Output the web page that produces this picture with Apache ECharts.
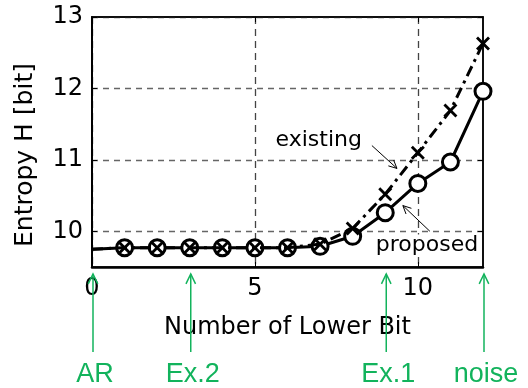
<!DOCTYPE html>
<html>
<head>
<meta charset="utf-8">
<script src="https://cdn.jsdelivr.net/npm/echarts@6/dist/echarts.min.js"></script>
<style>html,body{margin:0;padding:0;background:#fff}#c{width:528px;height:388px}</style>
</head>
<body>
<div id="c"></div>
<script>
const xValues = [0, 1, 2, 3, 4, 5, 6, 7, 8, 9, 10, 11, 12];
const proposed = [9.75, 9.77, 9.77, 9.77, 9.77, 9.77, 9.77, 9.79, 9.93, 10.26, 10.67, 10.97, 11.96];
const existing = [9.75, 9.77, 9.77, 9.77, 9.77, 9.77, 9.77, 9.82, 10.04, 10.52, 11.10, 11.69, 12.63];
const xTicks = [0, 5, 10];
const yTicks = [10, 11, 12, 13];
const markerNotes = [
  {x: 0, text: 'AR'},
  {x: 3, text: 'Ex.2'},
  {x: 9, text: 'Ex.1'},
  {x: 12, text: 'noise'}
];

const FONT = 'DejaVu Sans';
const GREEN = '#12b35c';
const chart = echarts.init(document.getElementById('c'));

const crossPath = 'path://M0,2 L2,0 L7,5 L12,0 L14,2 L9,7 L14,12 L12,14 L7,9 L2,14 L0,12 L5,7 Z';

const propData = xValues.map((x, i) => i === 0 ? {value: [x, proposed[i]], symbol: 'none'} : [x, proposed[i]]);
const existData = xValues.map((x, i) => i === 0 ? {value: [x, existing[i]], symbol: 'none'} : [x, existing[i]]);

chart.setOption({
  animation: false,
  grid: {left: 92, right: 45, top: 17, bottom: 121, show: true, borderColor: '#000', borderWidth: 1.5, backgroundColor: '#fff'},
  xAxis: [{
    type: 'value', min: 0, max: 12,
    axisLine: {show: true, onZero: false, lineStyle: {color: '#000', width: 2.5}},
    axisTick: {show: true, inside: true, length: 5, customValues: xTicks, lineStyle: {color: '#000'}},
    axisLabel: {customValues: xTicks, color: '#000', fontSize: 24, fontFamily: FONT, margin: 10},
    splitLine: {show: true, lineStyle: {color: '#444', type: [7, 5], width: 1.3}},
    name: 'Number of Lower Bit', nameLocation: 'middle', nameGap: 49,
    nameTextStyle: {color: '#000', fontSize: 24, fontFamily: FONT}
  }, {
    type: 'value', min: 0, max: 12, position: 'top',
    axisLine: {show: true, onZero: false, lineStyle: {color: '#000', width: 1.5}},
    axisTick: {show: true, inside: true, length: 5, customValues: xTicks, lineStyle: {color: '#000'}},
    axisLabel: {show: false, customValues: xTicks},
    splitLine: {show: false}
  }],
  yAxis: [{
    type: 'value', min: 9.5, max: 13,
    axisLine: {show: true, onZero: false, lineStyle: {color: '#000', width: 2}},
    axisTick: {show: true, inside: true, length: 5, customValues: yTicks, lineStyle: {color: '#000'}},
    axisLabel: {customValues: yTicks, color: '#000', fontSize: 24, fontFamily: FONT, margin: 9},
    splitLine: {show: true, lineStyle: {color: '#666', type: [6, 5], width: 1.3}}
  }, {
    type: 'value', min: 9.5, max: 13, position: 'right',
    axisLine: {show: true, onZero: false, lineStyle: {color: '#000', width: 1.5}},
    axisTick: {show: true, inside: true, length: 5, customValues: yTicks, lineStyle: {color: '#000'}},
    axisLabel: {show: false, customValues: yTicks},
    splitLine: {show: false}
  }],
  series: [{
    name: 'proposed', type: 'line', data: propData, z: 3,
    symbol: 'circle', symbolSize: 16,
    itemStyle: {color: '#fff', borderColor: '#000', borderWidth: 3},
    lineStyle: {color: '#000', width: 3}
  }, {
    name: 'existing', type: 'line', data: existData, z: 4,
    symbol: crossPath, symbolSize: 14,
    itemStyle: {color: '#000'},
    lineStyle: {color: '#000', width: 3, type: [11, 5, 3, 5]}
  }]
});

function px(x, y) { return chart.convertToPixel({xAxisIndex: 0, yAxisIndex: 0}, [x, y]); }

function arrow(p0, p1, color, w, head) {
  const ang = Math.atan2(p1[1] - p0[1], p1[0] - p0[0]);
  const a1 = ang + Math.PI - 0.45, a2 = ang + Math.PI + 0.45;
  return [
    {type: 'line', shape: {x1: p0[0], y1: p0[1], x2: p1[0], y2: p1[1]}, style: {stroke: color, lineWidth: w}, z: 100},
    {type: 'polyline', shape: {points: [[p1[0] + head * Math.cos(a1), p1[1] + head * Math.sin(a1)], p1, [p1[0] + head * Math.cos(a2), p1[1] + head * Math.sin(a2)]]}, style: {stroke: color, lineWidth: w, fill: null}, z: 100}
  ];
}

const g = [];
// y axis title
g.push({type: 'text', x: 25, y: 155, rotation: Math.PI / 2, style: {text: 'Entropy H [bit]', fill: '#000', font: '25px "' + FONT + '"', align: 'center', verticalAlign: 'middle'}});
// in-plot notes
const e = px(6.96, 11.27);
g.push({type: 'text', x: e[0], y: e[1], style: {text: 'existing', fill: '#000', font: '22px "' + FONT + '"', align: 'center', verticalAlign: 'middle', backgroundColor: '#fff', padding: [0, 2]}, z: 90});
g.push(...arrow(px(8.59, 11.2), px(9.36, 10.88), '#000', 1, 9));
const p = px(10.28, 9.8);
g.push({type: 'text', x: p[0], y: p[1], style: {text: 'proposed', fill: '#000', font: '22px "' + FONT + '"', align: 'center', verticalAlign: 'middle', backgroundColor: '#fff', padding: [0, 2]}, z: 90});
g.push(...arrow(px(10.37, 10.0), px(9.54, 10.36), '#000', 1, 9));
// green notes below axis
const yb = px(0, 9.5)[1];
markerNotes.forEach(n => {
  const q = px(n.x, 9.5);
  g.push(...arrow([q[0] + 1, yb + 85], [q[0] + 1, yb + 7], GREEN, 1.5, 11));
  g.push({type: 'text', x: q[0] + 3, y: yb + 108, style: {text: n.text, fill: GREEN, font: '27px "Liberation Sans"', align: 'center', verticalAlign: 'middle'}, z: 100});
});
chart.setOption({graphic: g});
</script>
</body>
</html>
